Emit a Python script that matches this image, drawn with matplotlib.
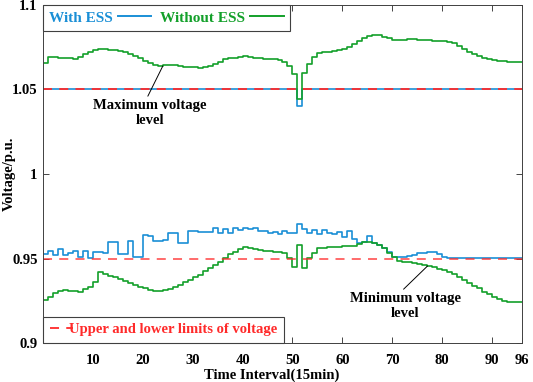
import numpy as np
import matplotlib.pyplot as plt
from matplotlib.lines import Line2D

plt.rcParams['font.family'] = ['Liberation Serif', 'DejaVu Serif']
plt.rcParams['font.weight'] = 'bold'
plt.rcParams['font.size'] = 10.5

# 96 intervals of 15 min, voltage in p.u.
max_without_ess = [1.0659, 1.0694, 1.0691, 1.0688, 1.0686, 1.0684, 1.0682, 1.0694,
                   1.0708, 1.0724, 1.0732, 1.0742, 1.0740, 1.0736, 1.0734, 1.0730,
                   1.0724, 1.0712, 1.0700, 1.0684, 1.0668, 1.0655, 1.0647, 1.0641,
                   1.0643, 1.0643, 1.0643, 1.0639, 1.0635, 1.0633, 1.0631, 1.0629,
                   1.0633, 1.0639, 1.0649, 1.0661, 1.0679, 1.0684, 1.0686, 1.0692,
                   1.0698, 1.0692, 1.0688, 1.0684, 1.0682, 1.0680, 1.0679, 1.0675,
                   1.0661, 1.0641, 1.0590, 1.0444, 1.0596, 1.0649, 1.0694, 1.0718,
                   1.0720, 1.0724, 1.0728, 1.0734, 1.0740, 1.0752, 1.0769, 1.0789,
                   1.0803, 1.0817, 1.0824, 1.0821, 1.0813, 1.0803, 1.0795, 1.0793,
                   1.0795, 1.0797, 1.0797, 1.0795, 1.0793, 1.0791, 1.0789, 1.0787,
                   1.0785, 1.0783, 1.0777, 1.0759, 1.0740, 1.0724, 1.0708, 1.0696,
                   1.0688, 1.0682, 1.0676, 1.0670, 1.0669, 1.0665, 1.0663, 1.0661]
max_with_ess = [1.05] * 51 + [1.0402] + [1.05] * 44

min_without_ess = [0.9254, 0.9274, 0.9298, 0.9309, 0.9314, 0.9309, 0.9307, 0.9304,
                   0.9318, 0.9330, 0.9363, 0.9420, 0.9408, 0.9396, 0.9389, 0.9379,
                   0.9369, 0.9357, 0.9343, 0.9333, 0.9324, 0.9314, 0.9309, 0.9309,
                   0.9314, 0.9321, 0.9333, 0.9345, 0.9361, 0.9372, 0.9389, 0.9402,
                   0.9428, 0.9442, 0.9462, 0.9481, 0.9501, 0.9525, 0.9540, 0.9554,
                   0.9566, 0.9560, 0.9554, 0.9550, 0.9546, 0.9542, 0.9538, 0.9536,
                   0.9531, 0.9501, 0.9451, 0.9580, 0.9442, 0.9501, 0.9531, 0.9560,
                   0.9564, 0.9566, 0.9568, 0.9570, 0.9572, 0.9574, 0.9576, 0.9584,
                   0.9596, 0.9596, 0.9594, 0.9580, 0.9560, 0.9531, 0.9507, 0.9487,
                   0.9481, 0.9477, 0.9471, 0.9465, 0.9459, 0.9456, 0.9448, 0.9440,
                   0.9432, 0.9422, 0.9408, 0.9392, 0.9372, 0.9353, 0.9337, 0.9324,
                   0.9304, 0.9288, 0.9274, 0.9260, 0.9250, 0.9244, 0.9241, 0.9241]
min_with_ess = [0.9525, 0.9544, 0.9521, 0.9558, 0.9519, 0.9534, 0.9546, 0.9511,
                0.9544, 0.9505, 0.9540, 0.9540, 0.9534, 0.9596, 0.9596, 0.9527,
                0.9527, 0.9605, 0.9507, 0.9511, 0.9637, 0.9633, 0.9602, 0.9602,
                0.9609, 0.9653, 0.9653, 0.9590, 0.9590, 0.9661, 0.9665, 0.9655,
                0.9655, 0.9655, 0.9679, 0.9649, 0.9673, 0.9649, 0.9681, 0.9669,
                0.9682, 0.9673, 0.9679, 0.9663, 0.9663, 0.9649, 0.9659, 0.9645,
                0.9665, 0.9649, 0.9653, 0.9704, 0.9673, 0.9649, 0.9669, 0.9645,
                0.9669, 0.9649, 0.9645, 0.9659, 0.9629, 0.9665, 0.9614, 0.9590,
                0.9599, 0.9635, 0.9590, 0.9580, 0.9560, 0.9540, 0.9511, 0.9507,
                0.9511, 0.9515, 0.9521, 0.9531, 0.9534, 0.9540, 0.9536, 0.9525,
                0.9511] + [0.9505] * 15

v_upper = 1.05
v_lower = 0.95
x_ticks = [10, 20, 30, 40, 50, 60, 70, 80, 90, 96]
y_ticks = [0.9, 0.95, 1.0, 1.05, 1.1]
y_tick_labels = ['0.9', '0.95', '1', '1.05', '1.1']

blue = '#1a8fd6'
green = '#13a02a'
red = '#ff2a2a'

edges = np.arange(0, 97)


def stair(ax, vals, color):
    ax.step(edges, np.append(vals, vals[-1]), where='post', color=color, lw=1.2)


fig = plt.figure(figsize=(5.33, 3.82), dpi=100)
ax = fig.add_axes([0.081, 0.102, 0.898, 0.885])

stair(ax, max_with_ess, blue)
stair(ax, min_with_ess, blue)
stair(ax, max_without_ess, green)
stair(ax, min_without_ess, green)
ax.axhline(v_upper, color=red, ls=(0, (5, 4)), lw=1.3)
ax.axhline(v_lower, color=red, ls=(0, (5, 4)), lw=1.3, alpha=0.75)

ax.set_xlim(0, 96)
ax.set_ylim(0.9, 1.1)
ax.set_xticks(x_ticks)
ax.set_yticks(y_ticks)
ax.set_yticklabels(y_tick_labels)
ax.tick_params(direction='in', top=True, right=True, length=4, width=0.6,
               colors='#262626', labelcolor='black', labelsize=10.5)
ax.tick_params(axis='x', pad=8)
ax.tick_params(axis='y', pad=4)
for s in ax.spines.values():
    s.set_color('#404040')
    s.set_linewidth(0.7)

ax.set_xlabel('Time Interval(15min)', fontweight='bold')
ax.xaxis.set_label_coords(0.478, -0.075)
ax.set_ylabel('Voltage/p.u.', fontweight='bold')
ax.yaxis.set_label_coords(-0.057, 0.5)

ax.annotate('Maximum voltage\nlevel', xy=(24.0, 1.0639), xytext=(21.4, 1.0444),
            ha='center', va='top', fontsize=10.5, fontweight='bold',
            arrowprops=dict(arrowstyle='-', lw=0.7, color='black',
                            relpos=(0.47, 1.0), shrinkA=0, shrinkB=0))
ax.annotate('Minimum voltage\nlevel', xy=(77.1, 0.9456), xytext=(72.6, 0.9302),
            ha='center', va='top', fontsize=10.5, fontweight='bold',
            arrowprops=dict(arrowstyle='-', lw=0.7, color='black',
                            relpos=(0.46, 1.0), shrinkA=0, shrinkB=0))

h1 = [Line2D([], [], color=blue, lw=1.4), Line2D([], [], color=green, lw=1.4)]
leg1 = ax.legend(h1, ['With ESS', 'Without ESS'], ncol=2, loc='upper left',
                 bbox_to_anchor=(0, 1), borderaxespad=0, markerfirst=False,
                 labelcolor='linecolor', fancybox=False, edgecolor='#404040',
                 framealpha=1, handlelength=2.2, columnspacing=0.6,
                 handletextpad=0.3, prop={'weight': 'bold', 'size': 11})
leg1.get_frame().set_linewidth(0.8)
ax.add_artist(leg1)

h2 = [Line2D([], [], color=red, lw=1.3, ls=(0, (5, 4)))]
leg2 = ax.legend(h2, ['Upper and lower limits of voltage'], loc='lower left',
                 bbox_to_anchor=(0, 0), borderaxespad=0, labelcolor=red,
                 fancybox=False, edgecolor='#404040', framealpha=1,
                 handlelength=1.6, handletextpad=-0.3, borderpad=0.45,
                 prop={'weight': 'bold', 'size': 10.5})
leg2.get_frame().set_linewidth(0.8)

fig.savefig('out.png', dpi=100)
